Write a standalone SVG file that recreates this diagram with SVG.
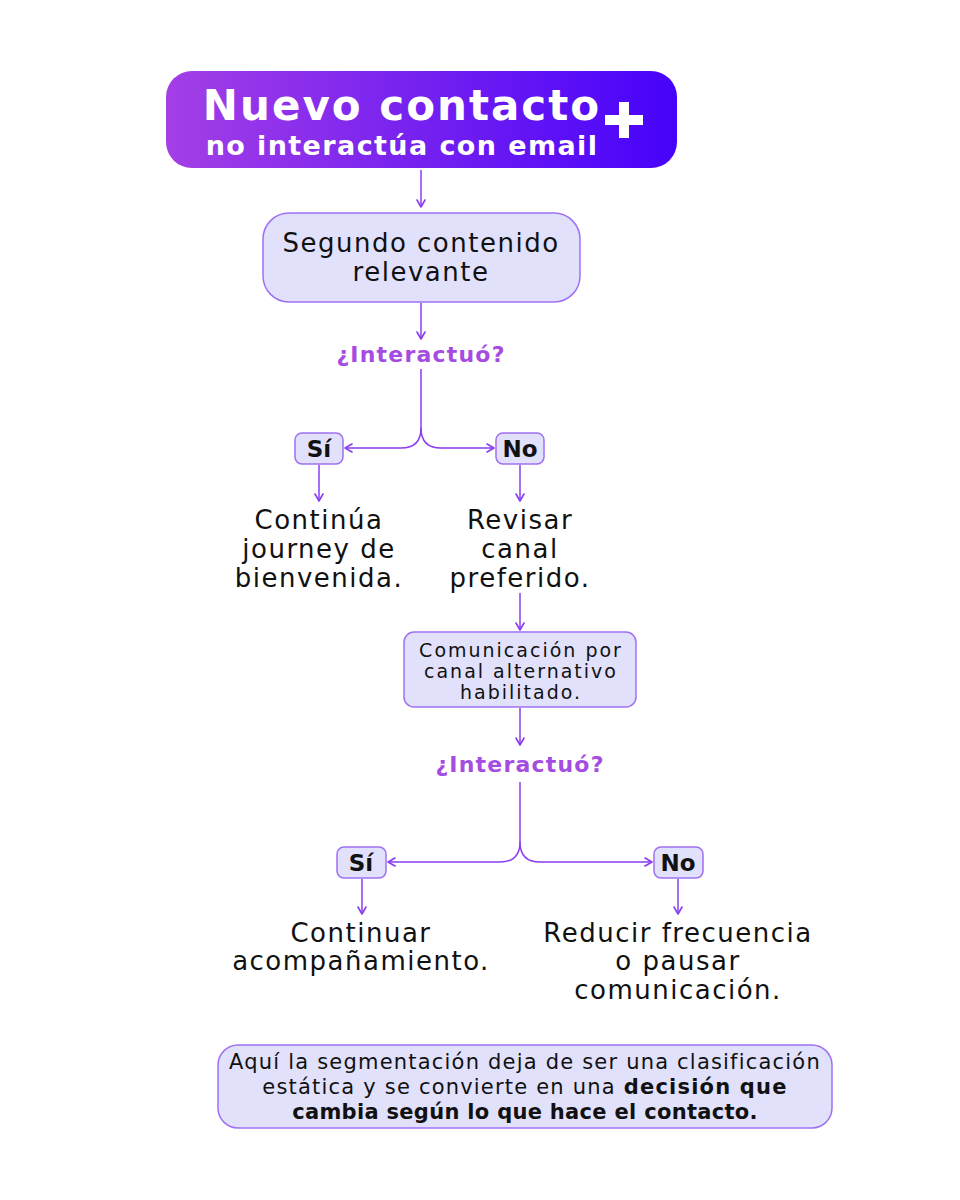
<svg xmlns="http://www.w3.org/2000/svg" width="960" height="1200" viewBox="0 0 960 1200">
<defs>
<linearGradient id="hdr" x1="0" y1="0" x2="1" y2="0">
<stop offset="0" stop-color="#a43fe6"/>
<stop offset="1" stop-color="#4602fa"/>
</linearGradient>
<marker id="ah" viewBox="0 0 10 10" refX="9" refY="5" markerWidth="10" markerHeight="10" markerUnits="userSpaceOnUse" orient="auto">
<path d="M2,1 L9,5 L2,9" fill="none" stroke="#8a3cf0" stroke-width="1.6" stroke-linecap="round" stroke-linejoin="round"/>
</marker>
<style>
.box{fill:#e1e1fc;stroke:#a070f2;stroke-width:1.5}
.conn{fill:none;stroke:#8a3cf0;stroke-width:1.5;marker-end:url(#ah)}
.t{font-family:"DejaVu Sans","Liberation Sans",sans-serif;fill:#111;text-anchor:middle}
.n{font-size:26px;letter-spacing:1.5px}
.s{font-size:21px;letter-spacing:1.2px}
.c{font-size:19px;letter-spacing:2px}
.b{font-weight:bold}
.bt{font-weight:bold;letter-spacing:0.3px}
.q{font-family:"DejaVu Sans","Liberation Sans",sans-serif;font-weight:bold;font-size:22px;letter-spacing:1.2px;fill:#a54ce2;text-anchor:middle}
.lab{font-family:"DejaVu Sans","Liberation Sans",sans-serif;font-weight:bold;font-size:23px;fill:#111;text-anchor:middle}
.w{font-family:"DejaVu Sans","Liberation Sans",sans-serif;font-weight:bold;fill:#fff;text-anchor:middle}
</style>
</defs>
<rect width="960" height="1200" fill="#fff"/>

<g id="connectors">
<path class="conn" d="M421,170 V207"/>
<path class="conn" d="M421,303 V339"/>
<path class="conn" d="M421,369 V428 Q421,448 401,448 H345"/>
<path class="conn" d="M421,428 Q421,448 441,448 H494"/>
<path class="conn" d="M319,465 V501"/>
<path class="conn" d="M520,465 V501"/>
<path class="conn" d="M520,593 V630"/>
<path class="conn" d="M520,708 V745"/>
<path class="conn" d="M520,782 V842 Q520,862 500,862 H388"/>
<path class="conn" d="M520,842 Q520,862 540,862 H652"/>
<path class="conn" d="M362,879 V914"/>
<path class="conn" d="M678,879 V914"/>
</g>

<g id="header">
<rect x="166" y="71" width="511" height="97" rx="26" fill="url(#hdr)"/>
<text class="w" x="402" y="120" font-size="42" letter-spacing="2">Nuevo contacto</text>
<text class="w" x="402" y="155" font-size="27" letter-spacing="1.4">no interactúa con email</text>
<path d="M619,102 h10 v13 h14 v10 h-14 v13 h-10 v-13 h-14 v-10 h14 z" fill="#fff"/>
</g>

<g id="segundo">
<rect class="box" x="263" y="213" width="317" height="89" rx="26"/>
<text class="t n" x="421" y="252">Segundo contenido</text>
<text class="t n" x="421" y="281">relevante</text>
</g>

<g id="q1"><text class="q" x="421" y="362">¿Interactuó?</text></g>

<g id="si1">
<rect class="box" x="295" y="433" width="48" height="31" rx="7"/>
<text class="lab" x="319" y="457">Sí</text>
</g>
<g id="no1">
<rect class="box" x="496" y="433" width="48" height="31" rx="7"/>
<text class="lab" x="520" y="457">No</text>
</g>

<g id="continua">
<text class="t n" x="319" y="529">Continúa</text>
<text class="t n" x="319" y="558">journey de</text>
<text class="t n" x="319" y="587">bienvenida.</text>
</g>
<g id="revisar">
<text class="t n" x="520" y="529">Revisar</text>
<text class="t n" x="520" y="558">canal</text>
<text class="t n" x="520" y="587">preferido.</text>
</g>

<g id="comunicacion">
<rect class="box" x="404" y="632" width="232" height="75" rx="10"/>
<text class="t c" x="521" y="657">Comunicación por</text>
<text class="t c" x="521" y="678">canal alternativo</text>
<text class="t c" x="521" y="699">habilitado.</text>
</g>

<g id="q2"><text class="q" x="520" y="772">¿Interactuó?</text></g>

<g id="si2">
<rect class="box" x="337" y="847" width="49" height="31" rx="7"/>
<text class="lab" x="361" y="871">Sí</text>
</g>
<g id="no2">
<rect class="box" x="654" y="847" width="49" height="31" rx="7"/>
<text class="lab" x="678" y="871">No</text>
</g>

<g id="continuar">
<text class="t n" x="361" y="942">Continuar</text>
<text class="t n" x="361" y="970">acompañamiento.</text>
</g>
<g id="reducir">
<text class="t n" x="678" y="942">Reducir frecuencia</text>
<text class="t n" x="678" y="970">o pausar</text>
<text class="t n" x="678" y="999">comunicación.</text>
</g>

<g id="nota">
<rect class="box" x="218" y="1045" width="614" height="83" rx="20"/>
<text class="t s" x="525" y="1069">Aquí la segmentación deja de ser una clasificación</text>
<text class="t s" x="525" y="1094">estática y se convierte en una <tspan class="b">decisión que</tspan></text>
<text class="t s bt" x="525" y="1119">cambia según lo que hace el contacto.</text>
</g>
</svg>
